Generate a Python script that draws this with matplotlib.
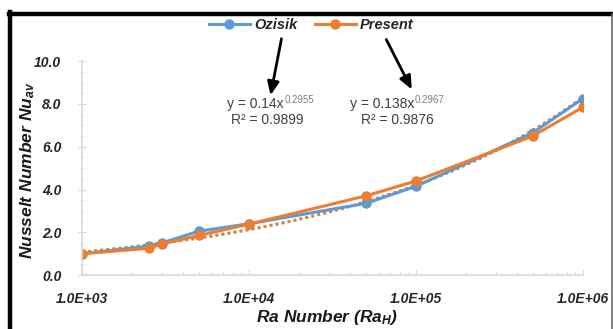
import numpy as np
import matplotlib.pyplot as plt
from matplotlib.ticker import FuncFormatter, LogLocator, NullFormatter
from matplotlib.lines import Line2D

plt.rcParams['font.family'] = ['Liberation Sans', 'DejaVu Sans']
plt.rcParams['mathtext.fontset'] = 'custom'
plt.rcParams['mathtext.it'] = 'Liberation Sans:bold:italic'
plt.rcParams['mathtext.rm'] = 'Liberation Sans:bold:italic'

# data
ra = [1e3, 2.5e3, 3e3, 5e3, 1e4, 5e4, 1e5, 5e5, 1e6]
nu_ozisik = [1.0, 1.35, 1.5, 2.05, 2.4, 3.35, 4.15, 6.65, 8.25]
nu_present = [1.0, 1.25, 1.45, 1.85, 2.38, 3.7, 4.4, 6.5, 7.85]

# power-law trendlines shown on the chart: y = a * x^b
fit_ozisik = (0.14, 0.2955, 0.9899)
fit_present = (0.138, 0.2967, 0.9876)

yticks = [0, 2, 4, 6, 8, 10]
xticks = [1e3, 1e4, 1e5, 1e6]

blue = '#5B9BD5'
orange = '#ED7D31'
txt = '#404040'

fig = plt.figure(figsize=(6.13, 3.29), dpi=100)
ax = fig.add_axes([0.134, 0.164, 0.817, 0.650])

xs = np.logspace(3, 6, 200)
ax.plot(xs, fit_ozisik[0] * xs ** fit_ozisik[1], ls=(0, (1, 1.2)), lw=2, color=blue)
ax.plot(xs, fit_present[0] * xs ** fit_present[1], ls=(0, (1, 1.2)), lw=2, color=orange)
ax.plot(ra, nu_ozisik, '-o', color=blue, lw=2.2, ms=6.5, label='Ozisik')
ax.plot(ra, nu_present, '-o', color=orange, lw=2.2, ms=6.5, label='Present')

ax.set_xscale('log')
ax.set_xlim(1e3, 1e6)
ax.set_ylim(0, 10)
ax.set_xticks(xticks)
ax.set_yticks(yticks)
ax.xaxis.set_major_formatter(FuncFormatter(lambda v, p: '%.1E' % v))
ax.yaxis.set_major_formatter(FuncFormatter(lambda v, p: '%.1f' % v))
ax.xaxis.set_minor_locator(LogLocator(base=10, subs=np.arange(2, 10)))
ax.xaxis.set_minor_formatter(NullFormatter())
ax.set_yticks(np.arange(0, 10.01, 0.5), minor=True)

for s in ['top', 'right']:
    ax.spines[s].set_visible(False)
for s in ['left', 'bottom']:
    ax.spines[s].set_color('#d9d9d9')
    ax.spines[s].set_linewidth(1.2)
ax.tick_params(axis='both', which='both', color='#d9d9d9')
ax.tick_params(axis='x', which='major', direction='in', length=4, pad=12)
ax.tick_params(axis='x', which='minor', direction='in', length=3)
ax.tick_params(axis='y', which='major', direction='inout', length=6, pad=12)
ax.tick_params(axis='y', which='minor', direction='inout', length=3)
for lab in ax.get_xticklabels() + ax.get_yticklabels():
    lab.set_fontsize(10)
    lab.set_fontweight('bold')
    lab.set_fontstyle('italic')
    lab.set_color('#262626')

ax.set_xlabel('Ra Number (Ra$_H$)', fontsize=12.5, fontweight='bold', style='italic',
              color='#1a1a1a')
ax.set_ylabel('Nusselt Number Nu$_{av}$', fontsize=12.5, fontweight='bold', style='italic',
              color='#1a1a1a')
ax.xaxis.set_label_coords(0.49, -0.152)
ax.yaxis.set_label_coords(-0.09, 0.49)

leg = fig.legend(loc='center', bbox_to_anchor=(0.508, 0.924), ncol=2, frameon=False,
                 handlelength=2.8, columnspacing=1.2, handletextpad=0.3,
                 prop={'weight': 'bold', 'style': 'italic', 'size': 10.5})
for t in leg.get_texts():
    t.set_color('#262626')

# trendline equations
def eq_text(fit, x, y):
    a, b, r2 = fit
    fig.text(x, y, 'y = %sx' % ('%g' % a), fontsize=10, color=txt, ha='right', va='center',
             transform=None)
    fig.text(x + 1, y + 4, '%.4f' % b, fontsize=7, color='#7f7f7f', ha='left', va='center',
             transform=None)
    fig.text(x - 17, y - 16, 'R² = %.4f' % r2, fontsize=10, color=txt, ha='center', va='center',
             transform=None)

eq_text(fit_ozisik, 284, 329 - 104)
eq_text(fit_present, 414, 329 - 104)

arrow = dict(arrowstyle='-|>,head_width=0.35,head_length=0.8', color='black', lw=2)
ax.annotate('', xy=(270, 329 - 98), xytext=(282, 329 - 36), xycoords='figure pixels',
            textcoords='figure pixels', arrowprops=arrow)
ax.annotate('', xy=(413, 329 - 92), xytext=(385, 329 - 37), xycoords='figure pixels',
            textcoords='figure pixels', arrowprops=arrow)

# picture frame
fig.add_artist(Line2D([10 / 613, 10 / 613], [0, 1 - 12 / 329], color='black', lw=3.2))
fig.add_artist(Line2D([8.5 / 613, 1], [1 - 14 / 329, 1 - 14 / 329], color='black', lw=3.2))
fig.add_artist(Line2D([611.5 / 613, 611.5 / 613], [0, 1 - 14 / 329], color='#6b6b6b', lw=1.2))

fig.savefig('out.png', dpi=100)
